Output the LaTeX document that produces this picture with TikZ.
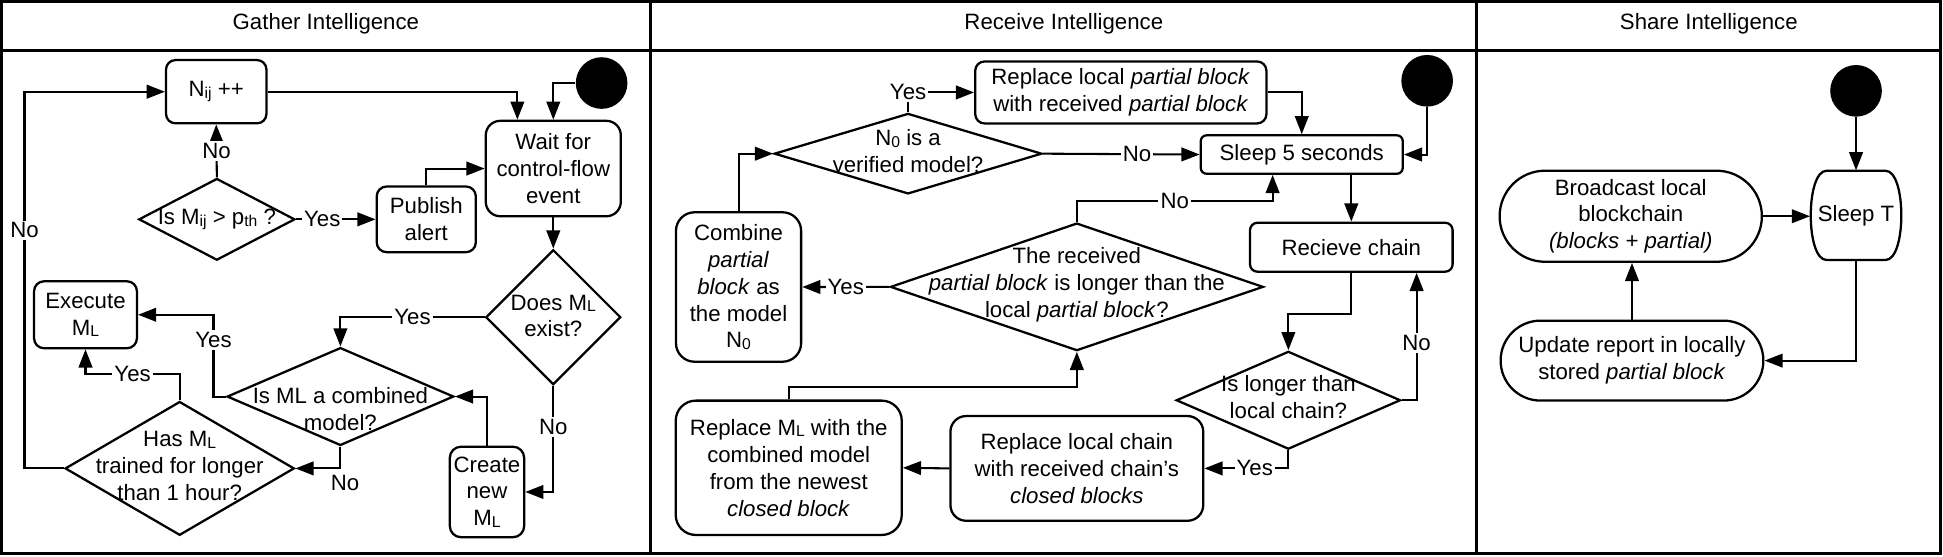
\documentclass[tikz,border=0pt]{standalone}
\usepackage{fontspec}
\setmainfont{Liberation Sans}
\usetikzlibrary{arrows.meta,shapes.geometric,calc}
\newcommand{\sbs}[1]{\raisebox{-0.7pt}{\fontsize{7.6pt}{8pt}\selectfont #1}}
\newcommand{\upx}[1]{#1*0.6pt}
\begin{document}
\begin{tikzpicture}[x=0.6pt,y=-0.6pt,
  every node/.style={font=\fontsize{10.75pt}{13pt}\selectfont},
  frame/.style={line width=1.5pt},
  box/.style={draw, line width=1.1pt, align=center, inner sep=0pt},
  sz/.style 2 args={minimum width=#1*0.6pt, minimum height=#2*0.6pt},
  dia/.style={draw, diamond, line width=1.1pt, inner sep=0pt},
  txt/.style={align=center, inner sep=0pt},
  arr/.style={line width=1pt, -{Triangle[length=8.8pt,width=6.6pt]}},
  lbl/.style={fill=white, inner sep=1pt},
  startdot/.style={circle, fill=black, inner sep=0pt, minimum size=25pt},
]
\useasboundingbox (0,0) rectangle (1568,449);
% frame
\draw[frame] (1.5,1.5) rectangle (1566,447);
\draw[frame] (1.5,40.4) -- (1566,40.4);
\draw[frame] (525,1.5) -- (525,447);
\draw[frame] (1191.5,1.5) -- (1191.5,447);
\node (hg) at (263,19.4) {Gather Intelligence};
\node (hr) at (858.5,19.4) {Receive Intelligence};
\node (hs) at (1379,19.4) {Share Intelligence};

% ---------- Gather ----------
\node[box, sz={81}{51}, rounded corners=4.5pt] (nij) at (174.5,74) {N\sbs{ij} ++};
\node[startdot] (s1) at (485.5,67) {};
\node[box, sz={109}{77}, rounded corners=7pt] (wait) at (446.5,136) {Wait for\\control-flow\\event};
\node[dia, sz={126}{66}] (ismij) at (175,177) {};
\node[txt] (ismijt) at (175,177) {Is M\sbs{ij} > p\sbs{th} ?};
\node[box, sz={80}{53}, rounded corners=4.8pt] (pub) at (344,177) {Publish\\alert};
\node[dia, sz={109}{109}] (doesml) at (446.5,256) {};
\node[txt] (doesmlt) at (446.5,255) {Does M\sbs{L}\\exist?};
\node[box, sz={83}{54}, rounded corners=4.8pt] (exec) at (69,254) {Execute\\M\sbs{L}};
\node[dia, sz={183}{79}] (isml) at (274.7,320) {};
\node[txt] (ismlt) at (274.7,330) {Is ML a combined\\model?};
\node[dia, sz={185}{108}] (hasml) at (145,378) {};
\node[txt] (hasmlt) at (145,376) {Has M\sbs{L}\\trained for longer\\than 1 hour?};
\node[box, sz={60}{73}, rounded corners=5.4pt] (create) at (393,397) {Create\\new\\M\sbs{L}};

\draw[arr] (nij.east) -| ([xshift=\upx{-29}]wait.north);
\draw[arr] (s1.west) -| (wait.north);
\draw[arr] (ismij.north) -- node[lbl]{No} (nij.south);
\draw[arr] (ismij.east) -- node[lbl,pos=0.33]{Yes} (pub.west);
\draw[arr] (pub.north) |- (wait.west);
\draw[arr] (wait.south) -- (doesml.north);
\draw[arr] (doesml.west) -| node[lbl,pos=0.25]{Yes} (isml.north);
\draw[arr] (isml.west) -- ([xshift=\upx{-10}]isml.west) |- node[lbl,pos=0.345]{Yes} (exec.east);
\draw[arr] (hasml.north) -- ([yshift=\upx{21.4}]hasml.north) -| node[lbl,pos=0.25]{Yes} (exec.south);
\draw[arr] (isml.south) |- (hasml.east);
\node (nolbl1) at (278.5,390) {No};
\draw[arr] (hasml.west) -- ([xshift=\upx{-31.8}]hasml.west) |- node[lbl,pos=0.316]{No} (nij.west);
\draw[arr] (create.north) |- (isml.east);
\draw[arr] (doesml.south) |- node[lbl,pos=0.195]{No} (create.east);

% ---------- Receive ----------
\node[box, sz={235}{50}, rounded corners=4.5pt] (replp) at (904.5,74.6) {Replace local \textit{partial block}\\with received \textit{partial block}};
\node[dia, sz={216}{65}] (n0) at (732.8,124) {};
\node[txt] (n0t) at (732.8,122) {N\sbs{0} is a\\verified model?};
\node[box, sz={163}{31}, rounded corners=2.8pt] (sleep5) at (1050.5,124.7) {Sleep 5 seconds};
\node[startdot] (s2) at (1151.7,65.2) {};
\node[box, sz={163.5}{39.5}, rounded corners=3.6pt] (recv) at (1090.5,199.5) {Recieve chain};
\node[box, sz={101}{120.6}, rounded corners=9pt] (comb) at (596,231.6) {Combine\\\textit{partial}\\\textit{block} as\\the model\\N\sbs{0}};
\node[dia, sz={301}{103}] (big) at (869,231.5) {};
\node[txt] (bigt) at (869,230) {The received\\\textit{partial block} is longer than the\\local \textit{partial block}?};
\node[dia, sz={181}{79}] (isl) at (1039.7,323) {};
\node[txt] (islt) at (1039.7,320.7) {Is longer than\\local chain?};
\node[box, sz={182.4}{108.4}, rounded corners=9.7pt] (replml) at (636.5,377.5) {Replace M\sbs{L} with the\\combined model\\from the newest\\\textit{closed block}};
\node[box, sz={204}{84.5}, rounded corners=7.6pt] (replch) at (869,378) {Replace local chain\\with received chain's\\\textit{closed blocks}};

\draw[arr] (n0.north) |- node[lbl,pos=0.5]{Yes} (replp.west);
\draw[arr] (n0.east) -- node[lbl,pos=0.6]{No} (sleep5.west);
\draw[arr] (replp.east) -| (sleep5.north);
\draw[arr] (s2.south) |- (sleep5.east);
\draw[arr] (recv.north |- sleep5.south) -- (recv.north);
\draw[arr] (comb.north) |- (n0.west);
\draw[arr] (big.north) -- ([yshift=\upx{16.6}]big.north) -| node[lbl,pos=0.25]{No} ([xshift=\upx{-23.5}]sleep5.south);
\draw[arr] (big.west) -- node[lbl]{Yes} (comb.east);
\draw[arr] (recv.south) -- ([yshift=\upx{-33.1}]recv.south) -| (isl.north);
\draw[arr] (isl.east) -| node[lbl,pos=0.724]{No} ([xshift=\upx{52.7}]recv.south);
\draw[arr] (isl.south) |- node[lbl,pos=0.7]{Yes} (replch.east);
\draw[arr] (replch.west) -- (replml.east);
\draw[arr] (replml.north) -- ([yshift=\upx{9.9}]replml.north) -| (big.south);

% ---------- Share ----------
\node[startdot] (s3) at (1497.8,73.3) {};
\node[inner sep=0pt, sz={73.6}{72}] (sleept) at (1497.8,173.8) {Sleep T};
\draw[line width=1.1pt] (1474,137.8) -- (1521.6,137.8) .. controls (1538.6,137.8) and (1538.6,209.8) .. (1521.6,209.8) -- (1474,209.8) .. controls (1457,209.8) and (1457,137.8) .. (1474,137.8) -- cycle;
\node[box, sz={211.6}{73.5}, rounded corners=22pt] (bcast) at (1316,174.5) {Broadcast local\\blockchain\\\textit{(blocks + partial)}};
\node[box, sz={212}{64.5}, rounded corners=19.3pt] (update) at (1317,291) {Update report in locally\\stored \textit{partial block}};

\draw[arr] (s3.south) -- (sleept.north);
\draw[arr] (bcast.east) -- (bcast.east -| sleept.west);
\draw[arr] (update.north) -- (update.north |- bcast.south);
\draw[arr] (sleept.south) |- (update.east);
\end{tikzpicture}
\end{document}
